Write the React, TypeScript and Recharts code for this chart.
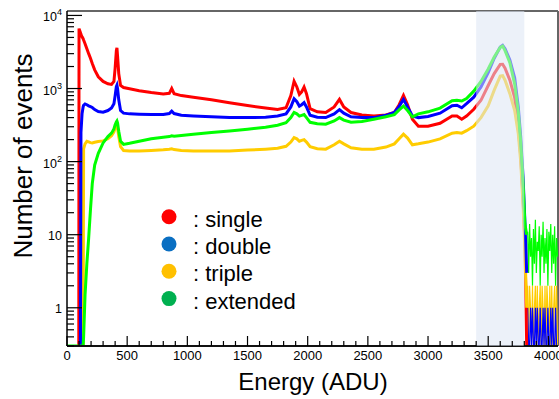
import React from 'react';
import { LineChart, Line, XAxis, YAxis, ReferenceArea, ReferenceLine } from 'recharts';

const energies = [
  0, 98, 100, 112, 116, 125, 134, 138, 150, 165, 180, 195, 210, 230, 260, 300, 340, 370, 390, 400,
  410, 415, 420, 430, 445, 470, 520, 600, 700, 800, 850, 870, 890, 950, 1050, 1200, 1350, 1500, 1650, 1750,
  1820, 1860, 1887, 1910, 1931, 1950, 1970, 1990, 2020, 2080, 2150, 2220, 2264, 2300, 2360, 2450, 2550, 2650, 2720, 2760,
  2796, 2830, 2870, 2920, 3000, 3100, 3200, 3240, 3280, 3320, 3380, 3440, 3500, 3550, 3600, 3620, 3640, 3680, 3720, 3750,
  3770, 3790, 3805, 3820,
];

const single = [
  null, 0.3, 6600, 5800, 5500, 5100, 4800, 4600, 4100, 3500, 3000, 2600, 2200, 1800, 1450, 1250, 1160, 1140, 1250, 1900,
  3300, 3600, 2800, 1600, 1100, 1030, 990, 935, 880, 840, 860, 1000, 850, 800, 760, 700, 640, 585, 540, 515,
  545, 800, 1260, 1050, 830, 900, 1050, 850, 530, 480, 470, 560, 710, 560, 470, 435, 420, 435, 470, 600,
  805, 600, 380, 305, 305, 335, 420, 420, 380, 420, 520, 690, 1100, 1600, 2140, 2150, 1900, 1300, 750, 290,
  120, 30, 8, 0.3,
];

const double = [
  null, null, null, 0.3, 250, 450, 560, 590, 615, 600, 580, 565, 550, 515, 485, 475, 500, 540, 620, 800,
  1060, 1110, 1000, 700, 500, 460, 450, 445, 440, 440, 455, 490, 455, 430, 420, 410, 400, 400, 405, 420,
  450, 560, 725, 660, 575, 600, 640, 560, 430, 405, 400, 450, 515, 460, 410, 400, 400, 430, 470, 570,
  710, 560, 420, 400, 415, 460, 580, 590, 545, 620, 760, 1050, 1650, 2600, 3700, 3900, 3500, 2450, 1400, 560,
  220, 60, 15, 3,
];

const triple = [
  null, null, null, null, null, null, 0.3, 150, 175, 190, 186, 182, 180, 184, 188, 192, 205, 225, 255, 285,
  300, 305, 290, 220, 160, 142, 140, 140, 142, 145, 148, 150, 146, 142, 140, 140, 140, 144, 148, 152,
  162, 185, 213, 205, 190, 195, 200, 185, 160, 150, 148, 170, 190, 175, 155, 148, 148, 158, 175, 205,
  237, 210, 170, 175, 185, 205, 245, 250, 245, 265, 305, 400, 580, 950, 1480, 1500, 1300, 850, 500, 240,
  100, 25, 6, 1,
];

const extended = [
  0.3, 0.3, 0.3, 0.3, 0.3, 0.3, 0.3, 0.4, 1.5, 4, 9, 22, 50, 90, 130, 180, 220, 245, 280, 320,
  350, 360, 340, 260, 190, 172, 178, 190, 205, 215, 220, 225, 222, 228, 237, 250, 262, 278, 295, 315,
  340, 400, 470, 450, 420, 430, 440, 400, 345, 330, 325, 360, 400, 370, 345, 355, 380, 410, 440, 510,
  575, 500, 410, 450, 480, 540, 680, 690, 675, 730, 920, 1250, 1850, 2700, 3650, 3800, 3300, 2250, 1150, 480,
  190, 50, 14, 10,
];

// noisy low-count tail past the end of the spectrum
const tailEnergies = [
  3828, 3836, 3844, 3852, 3860, 3868, 3876, 3884, 3892, 3900, 3908, 3916, 3924, 3932, 3940, 3948,
  3956, 3964, 3972, 3980, 3988, 3996, 4004, 4012, 4020, 4028, 4036, 4044, 4052, 4060, 4068, 4076,
];
const extendedTail = [
  11, 3, 14, 5, 9, 2, 12, 4, 16, 3, 8, 6, 13, 2, 10, 5, 15, 3, 9, 4, 12, 2, 11, 6, 14, 3, 10, 4, 13, 2, 9, 5,
];
const tripleTail = [
  2, 0.3, 2, 1, 0.3, 2, 0.3, 1, 2, 0.3, 2, 0.3, 1, 2, 0.3, 2, 1, 0.3, 2, 0.3, 2, 1, 0.3, 2, 0.3, 2, 0.3, 1, 2, 0.3, 2, 0.3,
];
const doubleTail = [
  1, 0.3, 0.3, 1, 0.3, 1, 0.3, 0.3, 1, 0.3, 1, 0.3, 0.3, 1, 0.3, 0.3, 1, 0.3, 1, 0.3, 0.3, 1, 0.3, 0.3, 1, 0.3, 1, 0.3, 0.3, 1, 0.3, 0.3,
];

const xTicks = [
  0, 100, 200, 300, 400, 500, 600, 700, 800, 900, 1000, 1100, 1200, 1300, 1400, 1500, 1600, 1700, 1800, 1900,
  2000, 2100, 2200, 2300, 2400, 2500, 2600, 2700, 2800, 2900, 3000, 3100, 3200, 3300, 3400, 3500, 3600, 3700,
  3800, 3900, 4000,
];
const xLabels = [0, 500, 1000, 1500, 2000, 2500, 3000, 3500, 4000];
const yTicks = [
  0.3, 0.4, 0.5, 0.6, 0.7, 0.8, 0.9, 1, 2, 3, 4, 5, 6, 7, 8, 9, 10, 20, 30, 40, 50, 60, 70, 80, 90,
  100, 200, 300, 400, 500, 600, 700, 800, 900, 1000, 2000, 3000, 4000, 5000, 6000, 7000, 8000, 9000, 10000,
];
const yLabels = [1, 10, 100, 1000, 10000];

const legendItems = [
  { name: 'single', color: '#ff0000' },
  { name: 'double', color: '#0a6fc2' },
  { name: 'triple', color: '#ffc000' },
  { name: 'extended', color: '#00b050' },
];

const FONT = '"Liberation Sans", Arial, Helvetica, sans-serif';

const data = energies.map((e, i) => ({
  energy: e,
  single: single[i],
  double: double[i],
  triple: triple[i],
  extended: extended[i],
}));

const tailData = tailEnergies.map((e, i) => ({
  energy: e,
  double: doubleTail[i],
  triple: tripleTail[i],
  extended: extendedTail[i],
}));

const XTick = (props: any) => {
  const { x, y, payload } = props;
  const major = xLabels.includes(payload.value);
  return (
    <g>
      <line x1={x} x2={x} y1={y} y2={y - (major ? 10 : 5)} stroke="#000" strokeWidth={1.2} />
      {major && (
        <text x={x} y={y + 14} textAnchor="middle" fontSize={13} fontFamily={FONT} fill="#000">
          {payload.value}
        </text>
      )}
    </g>
  );
};

const YTick = (props: any) => {
  const { x, y, payload } = props;
  const v = payload.value;
  const major = yLabels.includes(v);
  const exp = Math.round(Math.log10(v));
  return (
    <g>
      <line x1={x} x2={x + (major ? 15 : 7)} y1={y} y2={y} stroke="#000" strokeWidth={1.2} />
      {major && exp >= 2 && (
        <text x={x - 5} y={y + 6} textAnchor="end" fontSize={12.5} fontFamily={FONT} fill="#000">
          10
          <tspan dy={-6} fontSize={9}>{exp}</tspan>
        </text>
      )}
      {major && exp < 2 && (
        <text x={x - 5} y={y + 5} textAnchor="end" fontSize={12.5} fontFamily={FONT} fill="#000">
          {v}
        </text>
      )}
    </g>
  );
};

export default function App() {
  return (
    <div style={{ position: 'absolute', left: 0, top: 0, width: 559, height: 399, background: '#fff' }}>
      <LineChart
        width={559}
        height={399}
        data={data}
        margin={{ top: 11, right: 1, bottom: 0, left: 0 }}
      >
        <XAxis
          dataKey="energy"
          type="number"
          domain={[0, 4080]}
          ticks={xTicks}
          interval={0}
          tick={<XTick />}
          tickLine={false}
          tickSize={0}
          tickMargin={0}
          height={53}
          axisLine={{ stroke: '#111', strokeWidth: 2 }}
          allowDataOverflow
        />
        <YAxis
          scale="log"
          domain={[0.3, 11500]}
          ticks={yTicks}
          interval={0}
          tick={<YTick />}
          tickLine={false}
          tickSize={0}
          tickMargin={0}
          width={67}
          axisLine={{ stroke: '#000', strokeWidth: 1.5 }}
          allowDataOverflow
        />
        <ReferenceLine y={11500} stroke="#666" strokeWidth={2} />
        <ReferenceLine x={4080} stroke="#666" strokeWidth={2} />

        <Line data={tailData} dataKey="extended" stroke="#00ff00" strokeWidth={1.2} dot={false} isAnimationActive={false} />
        <Line data={tailData} dataKey="triple" stroke="#ffcc00" strokeWidth={1.2} dot={false} isAnimationActive={false} />
        <Line data={tailData} dataKey="double" stroke="#0000ff" strokeWidth={1.2} dot={false} isAnimationActive={false} />

        <Line dataKey="single" stroke="#ff0000" strokeWidth={3} dot={false} isAnimationActive={false} />
        <Line dataKey="triple" stroke="#ffcc00" strokeWidth={3} dot={false} isAnimationActive={false} />
        <Line dataKey="double" stroke="#0000ff" strokeWidth={3} dot={false} isAnimationActive={false} />
        <Line dataKey="extended" stroke="#00ff00" strokeWidth={3} dot={false} isAnimationActive={false} />

        <ReferenceArea
          x1={3400}
          x2={3800}
          fill="rgb(221,230,244)"
          fillOpacity={0.56}
          stroke="none"
          zIndex={1000}
        />
      </LineChart>

      <svg
        width={559}
        height={399}
        style={{ position: 'absolute', left: 0, top: 0, pointerEvents: 'none' }}
        fontFamily={FONT}
      >
        <text x={313} y={390} textAnchor="middle" fontSize={24} fill="#000">
          Energy (ADU)
        </text>
        <text
          x={0}
          y={0}
          transform="translate(32,156) rotate(-90)"
          textAnchor="middle"
          fontSize={26}
          fill="#000"
        >
          Number of events
        </text>
        {legendItems.map((item, i) => (
          <g key={item.name}>
            <circle cx={169} cy={216.7 + i * 27.3} r={7.5} fill={item.color} />
            <text x={193} y={226.7 + i * 27.3} fontSize={22} fill="#000">
              : {item.name}
            </text>
          </g>
        ))}
      </svg>
    </div>
  );
}
